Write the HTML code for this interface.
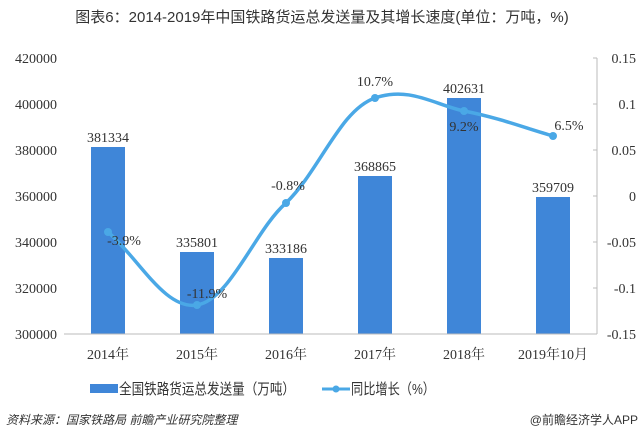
<!DOCTYPE html>
<html><head><meta charset="utf-8"><style>
body{margin:0;background:#fff;width:644px;height:441px;overflow:hidden}
svg text{font-family:"Liberation Serif","Noto Serif CJK SC",serif;fill:#333}
</style></head><body>
<svg width="644" height="441" viewBox="0 0 644 441">
<text x="322" y="22" text-anchor="middle" font-size="15" style="font-family:'Liberation Sans','Noto Sans CJK SC',sans-serif">图表6：2014-2019年中国铁路货运总发送量及其增长速度(单位：万吨，%)</text>
<g font-size="14" text-anchor="end">
<text x="57" y="63">420000</text><text x="57" y="109">400000</text><text x="57" y="155">380000</text><text x="57" y="201">360000</text><text x="57" y="247">340000</text><text x="57" y="293">320000</text><text x="57" y="339">300000</text>
</g>
<g font-size="14" text-anchor="end">
<text x="636" y="63">0.15</text><text x="636" y="109">0.1</text><text x="636" y="155">0.05</text><text x="636" y="201">0</text><text x="636" y="247">-0.05</text><text x="636" y="293">-0.1</text><text x="636" y="339">-0.15</text>
</g>
<line x1="597" y1="58" x2="597" y2="334" stroke="#bbb"/>
<g stroke="#bbb"><line x1="593" y1="58" x2="597" y2="58"/><line x1="593" y1="104" x2="597" y2="104"/><line x1="593" y1="150" x2="597" y2="150"/><line x1="593" y1="196" x2="597" y2="196"/><line x1="593" y1="242" x2="597" y2="242"/><line x1="593" y1="288" x2="597" y2="288"/><line x1="593" y1="334" x2="597" y2="334"/></g>
<g fill="#3f86d8">
<rect x="91" y="147" width="34" height="187"/><rect x="180" y="252" width="34" height="82"/><rect x="269" y="258" width="34" height="76"/><rect x="358" y="176" width="34" height="158"/><rect x="447" y="98" width="34" height="236"/><rect x="536" y="197" width="34" height="137"/>
</g>
<line x1="64" y1="334" x2="597" y2="334" stroke="#bbb"/>
<path d="M108,232 C140,260 165,310 197,305 C230,300 255,230 286,203 C320,170 340,110 375,98 C410,86 435,105 464,111 C500,118 525,128 553,136" fill="none" stroke="#4aa8e6" stroke-width="3.5"/>
<g fill="#4aa8e6"><circle cx="108" cy="232" r="4"/><circle cx="197" cy="305" r="4"/><circle cx="286" cy="203" r="4"/><circle cx="375" cy="98" r="4"/><circle cx="464" cy="111" r="4"/><circle cx="553" cy="136" r="4"/></g>
<g font-size="14" text-anchor="middle">
<text x="108" y="142">381334</text><text x="197" y="247">335801</text><text x="286" y="253">333186</text><text x="375" y="171">368865</text><text x="464" y="93">402631</text><text x="553" y="192">359709</text>
<text x="124" y="245">-3.9%</text><text x="207" y="298">-11.9%</text><text x="288" y="190">-0.8%</text><text x="375" y="86">10.7%</text><text x="464" y="131">9.2%</text><text x="569" y="130">6.5%</text>
</g>
<g font-size="14" text-anchor="middle">
<text x="108" y="359">2014年</text><text x="197" y="359">2015年</text><text x="286" y="359">2016年</text><text x="375" y="359">2017年</text><text x="464" y="359">2018年</text><text x="553" y="359">2019年10月</text>
</g>
<rect x="90" y="384" width="28" height="9" fill="#3f86d8"/>
<text x="119" y="394" font-size="15" textLength="176" lengthAdjust="spacingAndGlyphs" style="font-family:'Liberation Sans','Noto Sans CJK SC',sans-serif">全国铁路货运总发送量（万吨）</text>
<line x1="322" y1="389" x2="350" y2="389" stroke="#4aa8e6" stroke-width="3"/><circle cx="336" cy="389" r="3.5" fill="#4aa8e6"/>
<text x="351" y="394" font-size="15" textLength="84" lengthAdjust="spacingAndGlyphs" style="font-family:'Liberation Sans','Noto Sans CJK SC',sans-serif">同比增长（%）</text>
<text x="6" y="424" font-size="12" font-style="italic" style="font-family:'Liberation Sans','Noto Sans CJK SC',sans-serif">资料来源：国家铁路局 前瞻产业研究院整理</text>
<text x="638" y="424" font-size="12" text-anchor="end" style="font-family:'Liberation Sans','Noto Sans CJK SC',sans-serif">@前瞻经济学人APP</text>
</svg>
</body></html>
